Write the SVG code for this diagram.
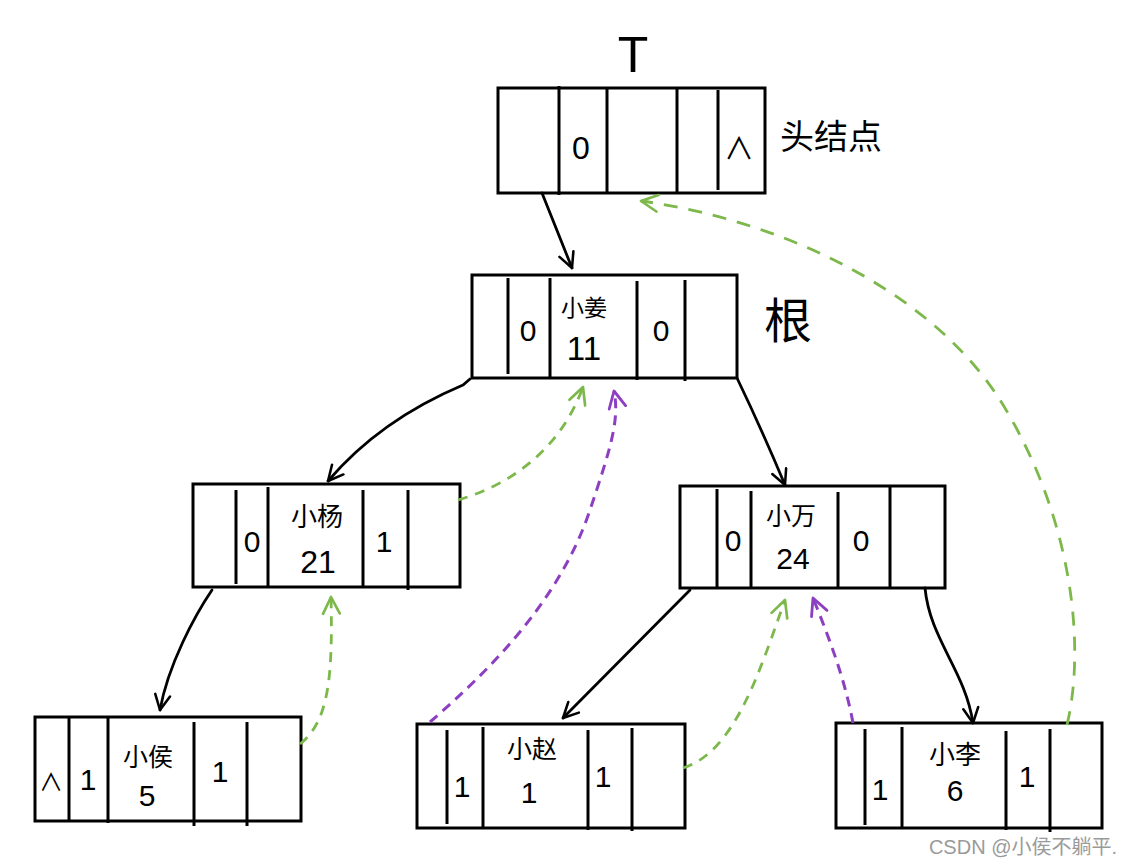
<svg xmlns="http://www.w3.org/2000/svg" width="1130" height="866" viewBox="0 0 1130 866">
<style>
  .box{fill:#fff;stroke:#000;stroke-width:3}
  .dv{stroke:#000;stroke-width:3}
  .t{font-family:"Liberation Sans","Noto Sans CJK SC",sans-serif;fill:#000;text-anchor:middle}
  .d{font-size:30px}
  .c{font-size:23px}
  .blk{fill:none;stroke:#000;stroke-width:2.8;stroke-linecap:round}
  .grn{fill:none;stroke:#7cb84a;stroke-width:2.8;stroke-dasharray:10 8}
  .grn2{fill:none;stroke:#7cb84a;stroke-width:2.8;stroke-dasharray:14 11}
  .pur{fill:none;stroke:#8d3fc1;stroke-width:3;stroke-dasharray:10 7}
</style>
<defs>
  <marker id="ab" viewBox="0 0 12 12" refX="11" refY="6" markerWidth="18" markerHeight="18" markerUnits="userSpaceOnUse" orient="auto">
    <path d="M1,1 L11,6 L1,11" fill="none" stroke="#000" stroke-width="1.7" stroke-linecap="round" stroke-linejoin="round"/>
  </marker>
  <marker id="ag" viewBox="0 0 12 12" refX="11" refY="6" markerWidth="20" markerHeight="20" markerUnits="userSpaceOnUse" orient="auto">
    <path d="M1,1 L11,6 L1,11" fill="none" stroke="#7cb84a" stroke-width="1.6" stroke-linecap="round" stroke-linejoin="round"/>
  </marker>
  <marker id="ap" viewBox="0 0 12 12" refX="11" refY="6" markerWidth="20" markerHeight="20" markerUnits="userSpaceOnUse" orient="auto">
    <path d="M1,1 L11,6 L1,11" fill="none" stroke="#8d3fc1" stroke-width="1.7" stroke-linecap="round" stroke-linejoin="round"/>
  </marker>
</defs>
<rect width="1130" height="866" fill="#fff"/>

<text class="t" x="633" y="72" style="font-size:50px">T</text>
<text class="t" x="831" y="149" style="font-size:34px">头结点</text>
<text class="t" x="788" y="338" style="font-size:48px">根</text>

<g id="head">
  <rect class="box" x="498" y="88" width="267" height="105"/>
  <line class="dv" x1="559" y1="86" x2="559" y2="195"/>
  <line class="dv" x1="607" y1="88" x2="607" y2="193"/>
  <line class="dv" x1="677" y1="88" x2="677" y2="193"/>
  <line class="dv" x1="718" y1="90" x2="718" y2="190"/>
  <text class="t" x="581" y="159" style="font-size:32px">0</text>
  <text class="t" x="739" y="159" style="font-size:30px">∧</text>
</g>

<g id="root">
  <rect class="box" x="472" y="275" width="265" height="103"/>
  <line class="dv" x1="508" y1="278" x2="508" y2="374"/>
  <line class="dv" x1="550" y1="278" x2="550" y2="378"/>
  <line class="dv" x1="637" y1="281" x2="637" y2="380"/>
  <line class="dv" x1="685" y1="280" x2="685" y2="381"/>
  <text class="t d" x="528" y="341">0</text>
  <text class="t c" x="584" y="316">小姜</text>
  <text class="t" x="584" y="360" style="font-size:33px">11</text>
  <text class="t d" x="661" y="341">0</text>
</g>

<g id="n-yang">
  <rect class="box" x="193" y="484" width="267" height="103"/>
  <line class="dv" x1="236" y1="490" x2="236" y2="584"/>
  <line class="dv" x1="268" y1="487" x2="268" y2="587"/>
  <line class="dv" x1="363" y1="490" x2="363" y2="587"/>
  <line class="dv" x1="408" y1="490" x2="408" y2="590"/>
  <text class="t d" x="252" y="552">0</text>
  <text class="t" x="317" y="526" style="font-size:26px">小杨</text>
  <text class="t" x="318" y="573" style="font-size:32px">21</text>
  <text class="t d" x="384" y="552">1</text>
</g>

<g id="n-wan">
  <rect class="box" x="680" y="486" width="265" height="102"/>
  <line class="dv" x1="717" y1="489" x2="717" y2="588"/>
  <line class="dv" x1="751" y1="491" x2="751" y2="588"/>
  <line class="dv" x1="838" y1="492" x2="838" y2="588"/>
  <line class="dv" x1="890" y1="486" x2="890" y2="588"/>
  <text class="t d" x="733" y="551">0</text>
  <text class="t" x="791" y="525" style="font-size:25px">小万</text>
  <text class="t d" x="793" y="569">24</text>
  <text class="t d" x="861" y="551">0</text>
</g>

<g id="n-hou">
  <rect class="box" x="35" y="717" width="266" height="104"/>
  <line class="dv" x1="69" y1="717" x2="69" y2="821"/>
  <line class="dv" x1="108" y1="717" x2="108" y2="823"/>
  <line class="dv" x1="194" y1="722" x2="194" y2="826"/>
  <line class="dv" x1="247" y1="722" x2="247" y2="826"/>
  <text class="t" x="51" y="791" style="font-size:24px">∧</text>
  <text class="t d" x="88" y="790">1</text>
  <text class="t" x="148" y="766" style="font-size:25px">小侯</text>
  <text class="t d" x="147" y="806">5</text>
  <text class="t d" x="220" y="782">1</text>
</g>

<g id="n-zhao">
  <rect class="box" x="417" y="724" width="268" height="104"/>
  <line class="dv" x1="447" y1="730" x2="447" y2="824"/>
  <line class="dv" x1="483" y1="727" x2="483" y2="828"/>
  <line class="dv" x1="588" y1="730" x2="588" y2="830"/>
  <line class="dv" x1="632" y1="728" x2="632" y2="831"/>
  <text class="t d" x="462" y="797">1</text>
  <text class="t" x="532" y="758" style="font-size:25px">小赵</text>
  <text class="t d" x="529" y="803">1</text>
  <text class="t d" x="603" y="787">1</text>
</g>

<g id="n-li">
  <rect class="box" x="836" y="723" width="266" height="105"/>
  <line class="dv" x1="865" y1="729" x2="865" y2="825"/>
  <line class="dv" x1="902" y1="727" x2="902" y2="828"/>
  <line class="dv" x1="1006" y1="731" x2="1006" y2="830"/>
  <line class="dv" x1="1050" y1="729" x2="1050" y2="832"/>
  <text class="t d" x="880" y="800">1</text>
  <text class="t" x="955" y="764" style="font-size:26px">小李</text>
  <text class="t d" x="955" y="801">6</text>
  <text class="t d" x="1027" y="787">1</text>
</g>

<g id="connectors">
  <path class="blk" d="M542,193 Q556,228 572,268" marker-end="url(#ab)"/>
  <path class="blk" d="M470,379 L463,385 Q380,420 328,481" marker-end="url(#ab)"/>
  <path class="blk" d="M737,378 Q762,430 785,485" marker-end="url(#ab)"/>
  <path class="blk" d="M212,590 C195,615 168,665 160,710" marker-end="url(#ab)"/>
  <path class="blk" d="M690,590 L563,718" marker-end="url(#ab)"/>
  <path class="blk" d="M925,588 C930,640 965,670 973,723" marker-end="url(#ab)"/>

  <path class="grn" d="M458,500 C510,485 560,450 583,387" marker-end="url(#ag)"/>
  <path class="grn" d="M300,744 C328,722 333,680 331,597" marker-end="url(#ag)"/>
  <path class="grn" d="M683,768 C735,752 760,670 785,600" marker-end="url(#ag)"/>
  <path class="grn2" d="M1067,725 C1085,650 1075,520 1000,400 C930,290 780,220 641,201" marker-end="url(#ag)"/>

  <path class="pur" d="M430,722 C490,670 560,600 590,510 C610,450 620,420 614,391" marker-end="url(#ap)"/>
  <path class="pur" d="M853,723 C845,680 830,640 813,598" marker-end="url(#ap)"/>
</g>

<text x="1117" y="854" style="font-family:'Liberation Sans','Noto Sans CJK SC',sans-serif;font-size:20px;fill:#9a9a9a;text-anchor:end">CSDN @小侯不躺平.</text>
</svg>
